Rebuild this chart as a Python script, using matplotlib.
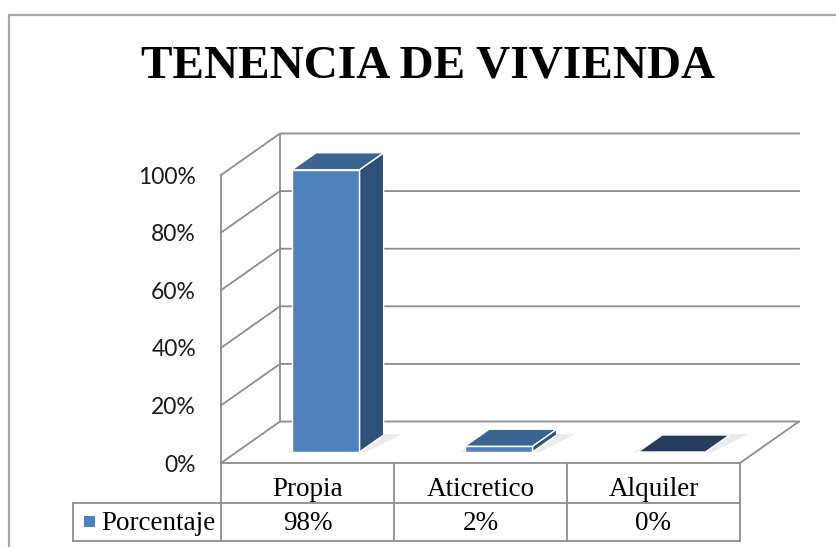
#!/usr/bin/env python
"""Excel-style 3D column chart: tenencia de vivienda."""

import matplotlib

matplotlib.use("Agg")
import matplotlib.pyplot as plt
from matplotlib.patches import Polygon

TITLE = "TENENCIA DE VIVIENDA"
CATEGORIES = ["Propia", "Aticretico", "Alquiler"]
SERIES_NAME = "Porcentaje"
VALUES = [0.98, 0.02, 0.00]
TICKS = [0.0, 0.2, 0.4, 0.6, 0.8, 1.0]
TICK_LABELS = ["0%", "20%", "40%", "60%", "80%", "100%"]
VALUE_LABELS = ["98%", "2%", "0%"]

# pixel layout of the oblique projection
X0, Y0 = 221.0, 463.0      # front-left corner of the floor
CAT_W = 173.0              # width of one category slot
V_SCALE = 288.0            # pixels for 100%
DEPTH_DX, DEPTH_DY = 59.0, -41.5

GRID = "#8c8c8c"
FRONT = "#4f81bd"
SIDE = "#2f5179"
TOP = "#3c6392"
TOP_ZERO = "#253c5c"


def proj(x, v, d):
    """category units x, value v, depth fraction d -> pixel coords"""
    return (X0 + x * CAT_W + d * DEPTH_DX, Y0 - v * V_SCALE + d * DEPTH_DY)


fig = plt.figure(figsize=(8.37, 5.47), dpi=100)
ax = fig.add_axes([0, 0, 1, 1])
ax.set_xlim(0, 837)
ax.set_ylim(547, 0)
ax.axis("off")

# chart border
ax.plot([9, 9, 840], [560, 15, 15], color="#a6a6a6", lw=1.6, solid_capstyle="butt")

ax.text(428, 66, TITLE, ha="center", va="center", fontsize=34,
        fontweight="bold", family="Liberation Serif")

n = len(CATEGORIES)
top_v = TICKS[-1]

# walls and gridlines
for t in TICKS:
    a = proj(0, t, 0)
    b = proj(0, t, 1)
    c = proj(n, t, 1)
    ax.plot([a[0], b[0], c[0]], [a[1], b[1], c[1]], color=GRID, lw=1.3)
for d in (0, 1):
    a = proj(0, 0, d)
    b = proj(0, top_v, d)
    ax.plot([a[0], b[0]], [a[1], b[1]], color=GRID, lw=1.3)
# floor front and right edges
p = [proj(0, 0, 0), proj(n, 0, 0), proj(n, 0, 1)]
ax.plot([q[0] for q in p], [q[1] for q in p], color=GRID, lw=1.3)

for t, lab in zip(TICKS, TICK_LABELS):
    x, y = proj(0, t, 0)
    ax.text(x - 25, y + 2, lab, ha="right", va="center", fontsize=16.5,
            family="Lato", color="#1a1a1a")

# bars
half_w = 0.195
d0, d1 = 0.265, 0.675
for i, v in enumerate(VALUES):
    c = i + 0.515
    xl, xr = c - half_w, c + half_w
    front = [proj(xl, 0, d0), proj(xr, 0, d0), proj(xr, v, d0), proj(xl, v, d0)]
    side = [proj(xr, 0, d0), proj(xr, 0, d1), proj(xr, v, d1), proj(xr, v, d0)]
    top = [proj(xl, v, d0), proj(xr, v, d0), proj(xr, v, d1), proj(xl, v, d1)]
    # soft floor shadow
    sh = [proj(xl - 0.03, 0, d0 - 0.01), proj(xr + 0.04, 0, d0 - 0.01),
          proj(xr + 0.1, 0, d1 + 0.02), proj(xl + 0.02, 0, d1 + 0.02)]
    ax.add_patch(Polygon(sh, closed=True, facecolor="#000000", alpha=0.08, lw=0, zorder=2))
    if v > 0:
        ax.add_patch(Polygon(side, closed=True, facecolor=SIDE, edgecolor="white", lw=1.0, zorder=3))
        ax.add_patch(Polygon(front, closed=True, facecolor=FRONT, edgecolor="white", lw=1.0, zorder=3))
    ax.add_patch(Polygon(top, closed=True, facecolor=TOP if v > 0 else TOP_ZERO,
                         edgecolor="white", lw=1.0, zorder=3))

# data table
fx, fy = proj(0, 0, 0)
rx = proj(n, 0, 0)[0]
row1, row2 = 503, 541
leg_x = 73
ax.plot([leg_x, rx], [row1, row1], color=GRID, lw=1.3)
ax.plot([leg_x, rx], [row2, row2], color=GRID, lw=1.3)
ax.plot([leg_x, leg_x], [row1, row2], color=GRID, lw=1.3)
for k in range(n + 1):
    xk = fx + k * CAT_W
    ax.plot([xk, xk], [fy, row2], color=GRID, lw=1.3)
for k, (cat, lab) in enumerate(zip(CATEGORIES, VALUE_LABELS)):
    xc = fx + (k + 0.5) * CAT_W
    ax.text(xc, (fy + row1) / 2 + 6, cat, ha="center", va="center",
            fontsize=19.5, family="Liberation Serif")
    ax.text(xc, (row1 + row2) / 2 + 2, lab, ha="center", va="center",
            fontsize=19.5, family="Liberation Serif")
ax.add_patch(plt.Rectangle((84, 516), 11, 11, facecolor=FRONT, edgecolor="none"))
ax.text(101, (row1 + row2) / 2 + 2, SERIES_NAME, ha="left", va="center",
        fontsize=19.5, family="Liberation Serif")

fig.savefig("out.png", dpi=100)
